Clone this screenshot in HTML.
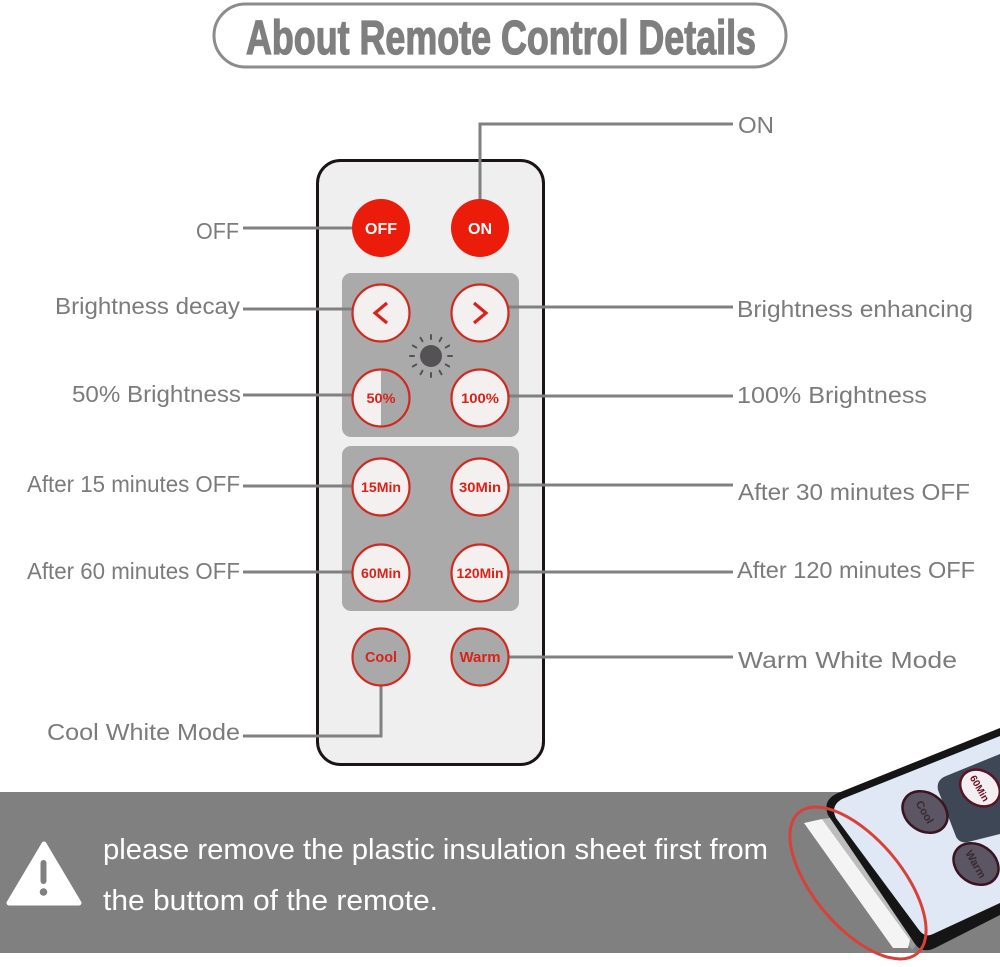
<!DOCTYPE html>
<html>
<head>
<meta charset="utf-8">
<style>
html,body{margin:0;padding:0;background:#fff;}
svg{display:block;}
</style>
</head>
<body>
<svg width="1000" height="967" viewBox="0 0 1000 967" xmlns="http://www.w3.org/2000/svg">
  <rect x="0" y="0" width="1000" height="967" fill="#ffffff"/>

  <!-- Title pill -->
  <rect x="214" y="4" width="572" height="63" rx="31.5" ry="31.5" fill="#ffffff" stroke="#8c8c8c" stroke-width="3"/>
  <text x="246" y="54" font-family="'Liberation Sans Narrow','Liberation Sans',sans-serif" font-weight="bold" font-size="48" fill="#7f7f7f" stroke="#7f7f7f" stroke-width="1.3" textLength="510" lengthAdjust="spacingAndGlyphs">About Remote Control Details</text>

  <!-- Remote body -->
  <rect x="317.5" y="160.5" width="226" height="604" rx="23" ry="23" fill="#efefef" stroke="#1a1414" stroke-width="3"/>

  <!-- Panels -->
  <rect x="342" y="273" width="177" height="164" rx="9" fill="#aaaaaa"/>
  <rect x="342" y="446" width="177" height="165" rx="9" fill="#aaaaaa"/>

  <!-- Connector lines -->
  <g stroke="#808080" stroke-width="3" fill="none">
    <line x1="243" y1="228" x2="370" y2="228"/>
    <line x1="243" y1="309" x2="370" y2="309"/>
    <line x1="243" y1="395" x2="370" y2="395"/>
    <line x1="243" y1="486" x2="370" y2="486"/>
    <line x1="243" y1="572" x2="370" y2="572"/>
    <polyline points="243,736 381,736 381,670"/>
    <polyline points="480,210 480,124 733,124"/>
    <line x1="490" y1="307" x2="733" y2="307"/>
    <line x1="490" y1="396" x2="733" y2="396"/>
    <line x1="490" y1="485" x2="733" y2="485"/>
    <line x1="490" y1="572" x2="733" y2="572"/>
    <line x1="490" y1="657" x2="733" y2="657"/>
  </g>

  <!-- OFF / ON -->
  <circle cx="381" cy="228" r="29" fill="#ec1c0b"/>
  <circle cx="480" cy="228" r="29" fill="#ec1c0b"/>
  <g font-family="'Liberation Sans',sans-serif" font-weight="bold" fill="#ffffff" text-anchor="middle">
    <text x="381" y="234" font-size="16">OFF</text>
    <text x="480" y="234" font-size="16">ON</text>
  </g>

  <!-- Brightness arrows -->
  <circle cx="381" cy="313" r="28.5" fill="#f3f0ef" stroke="#cf2a1f" stroke-width="2.2"/>
  <circle cx="480" cy="313" r="28.5" fill="#f3f0ef" stroke="#cf2a1f" stroke-width="2.2"/>
  <polyline points="387,303 375,313 387,323" fill="none" stroke="#d8231a" stroke-width="3.2"/>
  <polyline points="474,303 486,313 474,323" fill="none" stroke="#d8231a" stroke-width="3.2"/>

  <!-- Sun -->
  <circle cx="431" cy="356" r="11" fill="#555255"/>
  <g stroke="#555255" stroke-width="2" stroke-linecap="round">
    <line x1="431" y1="339" x2="431" y2="335"/>
    <line x1="431" y1="373" x2="431" y2="377"/>
    <line x1="414" y1="356" x2="410" y2="356"/>
    <line x1="448" y1="356" x2="452" y2="356"/>
    <line x1="439.5" y1="341.3" x2="441.5" y2="337.8"/>
    <line x1="422.5" y1="370.7" x2="420.5" y2="374.2"/>
    <line x1="445.7" y1="347.5" x2="449.2" y2="345.5"/>
    <line x1="416.3" y1="364.5" x2="412.8" y2="366.5"/>
    <line x1="422.5" y1="341.3" x2="420.5" y2="337.8"/>
    <line x1="439.5" y1="370.7" x2="441.5" y2="374.2"/>
    <line x1="416.3" y1="347.5" x2="412.8" y2="345.5"/>
    <line x1="445.7" y1="364.5" x2="449.2" y2="366.5"/>
  </g>

  <!-- 50% / 100% -->
  <circle cx="381" cy="398" r="28.5" fill="#f3f0ef"/>
  <path d="M381,369.5 A28.5,28.5 0 0 1 381,426.5 Z" fill="#a8a8a8"/>
  <circle cx="381" cy="398" r="28.5" fill="none" stroke="#cf2a1f" stroke-width="2.2"/>
  <circle cx="480" cy="398" r="28.5" fill="#f3f0ef" stroke="#cf2a1f" stroke-width="2.2"/>

  <!-- Timer buttons -->
  <circle cx="381" cy="487" r="28.5" fill="#f3f0ef" stroke="#cf2a1f" stroke-width="2.2"/>
  <circle cx="480" cy="487" r="28.5" fill="#f3f0ef" stroke="#cf2a1f" stroke-width="2.2"/>
  <circle cx="381" cy="573" r="28.5" fill="#f3f0ef" stroke="#cf2a1f" stroke-width="2.2"/>
  <circle cx="480" cy="573" r="28.5" fill="#f3f0ef" stroke="#cf2a1f" stroke-width="2.2"/>

  <!-- Cool / Warm -->
  <circle cx="381" cy="657" r="28.5" fill="#a9a9a9" stroke="#cf2a1f" stroke-width="2.2"/>
  <circle cx="480" cy="657" r="28.5" fill="#a9a9a9" stroke="#cf2a1f" stroke-width="2.2"/>

  <g font-family="'Liberation Sans',sans-serif" font-weight="bold" fill="#d8231a" text-anchor="middle" font-size="13.5">
    <text x="381" y="403" textLength="29" lengthAdjust="spacingAndGlyphs">50%</text>
    <text x="480" y="403" textLength="38" lengthAdjust="spacingAndGlyphs">100%</text>
    <text x="381" y="492" textLength="40" lengthAdjust="spacingAndGlyphs">15Min</text>
    <text x="480" y="492" textLength="42" lengthAdjust="spacingAndGlyphs">30Min</text>
    <text x="381" y="578" textLength="40" lengthAdjust="spacingAndGlyphs">60Min</text>
    <text x="480" y="578" textLength="47" lengthAdjust="spacingAndGlyphs">120Min</text>
    <text x="381" y="662" font-size="14.5" textLength="32" lengthAdjust="spacingAndGlyphs">Cool</text>
    <text x="480" y="662" font-size="14.5" textLength="41" lengthAdjust="spacingAndGlyphs">Warm</text>
  </g>

  <!-- Labels -->
  <g font-family="'Liberation Sans',sans-serif" font-size="23.5" fill="#7b7b7b">
    <text x="196" y="239" textLength="43" lengthAdjust="spacingAndGlyphs">OFF</text>
    <text x="55" y="314" textLength="185" lengthAdjust="spacingAndGlyphs">Brightness decay</text>
    <text x="72" y="402" textLength="169" lengthAdjust="spacingAndGlyphs">50% Brightness</text>
    <text x="27" y="492" textLength="213" lengthAdjust="spacingAndGlyphs">After 15 minutes OFF</text>
    <text x="27" y="579" textLength="213" lengthAdjust="spacingAndGlyphs">After 60 minutes OFF</text>
    <text x="47" y="740" textLength="193" lengthAdjust="spacingAndGlyphs">Cool White Mode</text>

    <text x="738" y="133" textLength="36" lengthAdjust="spacingAndGlyphs">ON</text>
    <text x="737" y="317" textLength="236" lengthAdjust="spacingAndGlyphs">Brightness enhancing</text>
    <text x="737" y="403" textLength="190" lengthAdjust="spacingAndGlyphs">100% Brightness</text>
    <text x="738" y="500" textLength="232" lengthAdjust="spacingAndGlyphs">After 30 minutes OFF</text>
    <text x="737" y="578" textLength="238" lengthAdjust="spacingAndGlyphs">After 120 minutes OFF</text>
    <text x="738" y="668" textLength="219" lengthAdjust="spacingAndGlyphs">Warm White Mode</text>
  </g>

  <!-- Bottom band -->
  <rect x="0" y="792" width="1000" height="161" fill="#808080"/>

  <!-- Warning triangle -->
  <path d="M44,844 L79,903 L9,903 Z" fill="#ffffff" stroke="#ffffff" stroke-width="5" stroke-linejoin="round"/>
  <rect x="40.5" y="860" width="6" height="24" rx="3" fill="#808080"/>
  <circle cx="43.5" cy="892" r="3.8" fill="#808080"/>

  <g font-family="'Liberation Sans',sans-serif" font-size="29" fill="#ffffff">
    <text x="103" y="859" textLength="665" lengthAdjust="spacingAndGlyphs">please remove the plastic insulation sheet first from</text>
    <text x="103" y="910" textLength="335" lengthAdjust="spacingAndGlyphs">the buttom of the remote.</text>
  </g>

  <!-- Photo remote (bottom-right) -->
  <polygon points="818,822 840,815 925,935 912,950" fill="#9a9a9a"/>
  <polygon points="804,823 822,819 910,940 908,948 893,948" fill="#f4f4f4"/>
  <polygon points="822,819 830,818 912,936 910,940" fill="#bdbdbd"/>
  <path d="M838,793 L1000,728 L1000,915 L935,948 Q922,954 915,944 L828,815 Q822,800 838,793 Z" fill="#151515"/>
  <path d="M842,799 L1000,736 L1000,903 L933,934 Q925,938 919,930 L836,818 Q830,806 842,799 Z" fill="#dfe8f4"/>
  <path d="M946,776 L1000,754 L1000,834 L968,842 Q958,844 955,834 L938,790 Q936,780 946,776 Z" fill="#3e4756"/>
  <ellipse cx="925" cy="812" rx="24" ry="19" transform="rotate(35 925 812)" fill="#5c5564" stroke="#3a1420" stroke-width="2.5"/>
  <ellipse cx="980" cy="788" rx="21" ry="17" transform="rotate(35 980 788)" fill="#f3eef0" stroke="#5a1426" stroke-width="2.5"/>
  <ellipse cx="976" cy="864" rx="24" ry="19" transform="rotate(35 976 864)" fill="#5c5564" stroke="#3a1420" stroke-width="2.5"/>
  <text x="925" y="816" font-family="'Liberation Sans',sans-serif" font-weight="bold" font-size="11" fill="#3a2a30" text-anchor="middle" transform="rotate(60 925 812)">Cool</text>
  <text x="980" y="792" font-family="'Liberation Sans',sans-serif" font-weight="bold" font-size="10" fill="#6a1020" text-anchor="middle" transform="rotate(60 980 788)">60Min</text>
  <text x="976" y="868" font-family="'Liberation Sans',sans-serif" font-weight="bold" font-size="11" fill="#3a2a30" text-anchor="middle" transform="rotate(60 976 864)">Warm</text>

  <ellipse cx="858" cy="883" rx="44" ry="92" transform="rotate(-40 858 883)" fill="none" stroke="#d8403a" stroke-width="3"/>
</svg>
</body>
</html>
